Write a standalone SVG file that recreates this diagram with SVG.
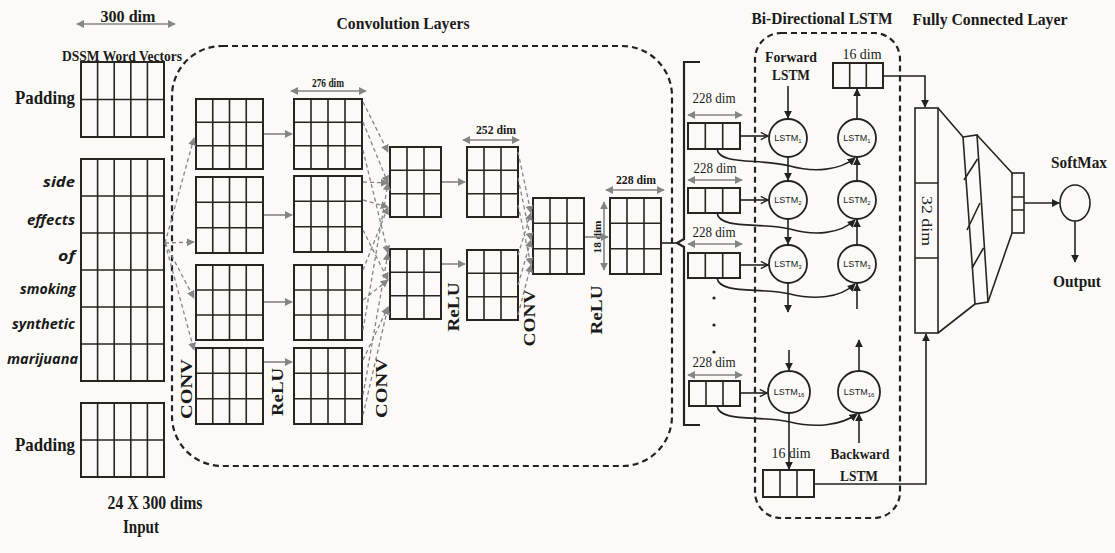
<svg xmlns="http://www.w3.org/2000/svg" width="1115" height="553" viewBox="0 0 1115 553">
<defs>
<style>
.bg{fill:#fbfaf7}
.m{fill:none;stroke:#2a2420;stroke-width:2}
.g{fill:none;stroke:#2a2420;stroke-width:1.6}
.dg{fill:none;stroke:#858585;stroke-width:1.3;stroke-dasharray:4 3;marker-end:url(#ag)}
.sg{fill:none;stroke:#858585;stroke-width:1.6;marker-end:url(#ag)}
.dim{fill:none;stroke:#858585;stroke-width:1.6;marker-start:url(#ag);marker-end:url(#ag)}
.bk{fill:none;stroke:#222;stroke-width:1.6}
.ab{marker-end:url(#ab)}
.ao{marker-end:url(#ao)}
.box{fill:none;stroke:#222;stroke-width:2.2;stroke-dasharray:6 4}
.tb{font-family:"Liberation Serif",serif;font-weight:bold;fill:#1a1a1a}
.tr{font-family:"Liberation Serif",serif;fill:#1a1a1a}
.tw{font-family:"Open Sans","Liberation Sans",sans-serif;font-weight:bold;font-style:italic;font-size:15px;fill:#1a1a1a;text-anchor:end}
.ts{font-family:"Liberation Sans",sans-serif;font-size:9px;fill:#1a1a1a;text-anchor:middle}
.sub{font-size:6px}
.c{fill:#fbfaf7;stroke:#222;stroke-width:1.8}
</style>
<marker id="ag" viewBox="0 0 10 10" refX="9" refY="5" markerWidth="8" markerHeight="8" markerUnits="userSpaceOnUse" orient="auto-start-reverse"><path d="M0,0 L10,5 L0,10 z" fill="#858585"/></marker>
<marker id="ab" viewBox="0 0 10 10" refX="9" refY="5" markerWidth="8" markerHeight="8" markerUnits="userSpaceOnUse" orient="auto"><path d="M0,0 L10,5 L0,10 z" fill="#222"/></marker>
<marker id="ao" viewBox="0 0 10 10" refX="9" refY="5" markerWidth="9" markerHeight="9" markerUnits="userSpaceOnUse" orient="auto"><path d="M1,1 L9,5 L1,9" fill="none" stroke="#222" stroke-width="1.6"/></marker>
</defs>
<rect class="bg" x="0" y="0" width="1115" height="553"/>

<!-- Input -->
<g id="input">
<text class="tb" x="128" y="22" font-size="16" text-anchor="middle" textLength="55" lengthAdjust="spacingAndGlyphs">300 dim</text>
<line class="dim" x1="77" y1="24" x2="175" y2="24"/>
<text class="tb" x="122" y="61" font-size="14" text-anchor="middle" textLength="120" lengthAdjust="spacingAndGlyphs">DSSM Word Vectors</text>
<text class="tb" x="45" y="104" font-size="19" text-anchor="middle" textLength="60" lengthAdjust="spacingAndGlyphs">Padding</text>
<rect class="m" x="81" y="62" width="83" height="75"/>
<path class="g" d="M97.6,62V137M114.2,62V137M130.8,62V137M147.4,62V137M81,99.5H164"/>
<rect class="m" x="81" y="159" width="83" height="222"/>
<path class="g" d="M97.6,159V381M114.2,159V381M130.8,159V381M147.4,159V381M81,196H164M81,233H164M81,270H164M81,307H164M81,344H164"/>
<text class="tw" x="75" y="187" textLength="32" lengthAdjust="spacingAndGlyphs">side</text>
<text class="tw" x="75" y="225" textLength="48" lengthAdjust="spacingAndGlyphs">effects</text>
<text class="tw" x="75" y="261" textLength="17" lengthAdjust="spacingAndGlyphs">of</text>
<text class="tw" x="76" y="294" textLength="56" lengthAdjust="spacingAndGlyphs">smoking</text>
<text class="tw" x="75" y="329" textLength="63" lengthAdjust="spacingAndGlyphs">synthetic</text>
<text class="tw" x="78" y="364" textLength="71" lengthAdjust="spacingAndGlyphs">marijuana</text>
<rect class="m" x="81" y="403" width="83" height="74"/>
<path class="g" d="M97.6,403V477M114.2,403V477M130.8,403V477M147.4,403V477M81,440H164"/>
<text class="tb" x="45" y="451" font-size="19" text-anchor="middle" textLength="60" lengthAdjust="spacingAndGlyphs">Padding</text>
<text class="tb" x="155" y="509" font-size="18" text-anchor="middle" textLength="95" lengthAdjust="spacingAndGlyphs">24 X 300 dims</text>
<text class="tb" x="141" y="533" font-size="18" text-anchor="middle" textLength="36" lengthAdjust="spacingAndGlyphs">Input</text>
</g>

<!-- Convolution layers -->
<g id="conv-layers">
<text class="tb" x="403" y="29" font-size="17" text-anchor="middle" textLength="133" lengthAdjust="spacingAndGlyphs">Convolution Layers</text>
<rect class="box" x="172" y="46" width="500" height="420" rx="50"/>
</g>

<g id="conv1">
<rect class="m" x="196" y="99" width="67" height="70"/>
<path class="g" d="M212.75,99V169M229.5,99V169M246.25,99V169M196,122.3H263M196,145.7H263"/>
<rect class="m" x="196" y="177" width="67" height="76"/>
<path class="g" d="M212.75,177V253M229.5,177V253M246.25,177V253M196,202.3H263M196,227.7H263"/>
<rect class="m" x="196" y="265" width="67" height="75"/>
<path class="g" d="M212.75,265V340M229.5,265V340M246.25,265V340M196,290H263M196,315H263"/>
<rect class="m" x="196" y="348" width="67" height="76"/>
<path class="g" d="M212.75,348V424M229.5,348V424M246.25,348V424M196,373.3H263M196,398.7H263"/>
<text class="tb" transform="translate(192,389) rotate(-90)" font-size="17" text-anchor="middle" textLength="60" lengthAdjust="spacingAndGlyphs">CONV</text>
</g>

<g id="relu1">
<text class="tb" x="328" y="87" font-size="12" text-anchor="middle" textLength="32" lengthAdjust="spacingAndGlyphs">276 dim</text>
<line class="dim" x1="291" y1="91" x2="366" y2="91"/>
<rect class="m" x="294" y="99" width="68" height="70"/>
<path class="g" d="M311,99V169M328,99V169M345,99V169M294,122.3H362M294,145.7H362"/>
<rect class="m" x="294" y="176" width="68" height="76"/>
<path class="g" d="M311,176V252M328,176V252M345,176V252M294,201.3H362M294,226.7H362"/>
<rect class="m" x="294" y="265" width="68" height="75"/>
<path class="g" d="M311,265V340M328,265V340M345,265V340M294,290H362M294,315H362"/>
<rect class="m" x="294" y="348" width="68" height="76"/>
<path class="g" d="M311,348V424M328,348V424M345,348V424M294,373.3H362M294,398.7H362"/>
<text class="tb" transform="translate(283,392) rotate(-90)" font-size="16" text-anchor="middle" textLength="48" lengthAdjust="spacingAndGlyphs">ReLU</text>
</g>

<g id="conv2">
<rect class="m" x="390" y="147" width="51" height="70"/>
<path class="g" d="M407,147V217M424,147V217M390,170.3H441M390,193.7H441"/>
<rect class="m" x="390" y="249" width="51" height="70"/>
<path class="g" d="M407,249V319M424,249V319M390,272.3H441M390,295.7H441"/>
<text class="tb" transform="translate(387,388) rotate(-90)" font-size="17" text-anchor="middle" textLength="60" lengthAdjust="spacingAndGlyphs">CONV</text>
</g>

<g id="relu2">
<text class="tb" x="496" y="134" font-size="12" text-anchor="middle" textLength="40" lengthAdjust="spacingAndGlyphs">252 dim</text>
<line class="dim" x1="463" y1="140" x2="519" y2="140"/>
<rect class="m" x="467" y="147" width="51" height="70"/>
<path class="g" d="M484,147V217M501,147V217M467,170.3H518M467,193.7H518"/>
<rect class="m" x="467" y="250" width="51" height="70"/>
<path class="g" d="M484,250V320M501,250V320M467,273.3H518M467,296.7H518"/>
<text class="tb" transform="translate(459,307) rotate(-90)" font-size="16" text-anchor="middle" textLength="49" lengthAdjust="spacingAndGlyphs">ReLU</text>
</g>

<g id="conv3">
<rect class="m" x="533" y="198" width="51" height="76"/>
<path class="g" d="M550,198V274M567,198V274M533,223.3H584M533,248.7H584"/>
<text class="tb" transform="translate(535,318) rotate(-90)" font-size="17" text-anchor="middle" textLength="57" lengthAdjust="spacingAndGlyphs">CONV</text>
</g>

<g id="relu3">
<text class="tb" x="636" y="184" font-size="12" text-anchor="middle" textLength="40" lengthAdjust="spacingAndGlyphs">228 dim</text>
<line class="dim" x1="606" y1="190" x2="664" y2="190"/>
<rect class="m" x="610" y="198" width="51" height="76"/>
<path class="g" d="M627,198V274M644,198V274M610,223.3H661M610,248.7H661"/>
<line class="dim" x1="604" y1="202" x2="604" y2="270"/>
<text class="tb" transform="translate(601,237) rotate(-90)" font-size="11" text-anchor="middle" textLength="33" lengthAdjust="spacingAndGlyphs">18 dim</text>
<text class="tb" transform="translate(602,310) rotate(-90)" font-size="16" text-anchor="middle" textLength="49" lengthAdjust="spacingAndGlyphs">ReLU</text>
</g>

<!-- LSTM section -->
<g id="bracket">
<path d="M700,62 H684 V239 L677,243 L684,247 V425 H700" fill="none" stroke="#222" stroke-width="2.2"/>
</g>

<g id="lstm-inputs">
<text class="tr" x="714" y="103" font-size="14" text-anchor="middle" textLength="43" lengthAdjust="spacingAndGlyphs">228 dim</text>
<line class="dim" x1="688" y1="115" x2="742" y2="115"/>
<rect class="m" x="688" y="123" width="52" height="26"/>
<path class="g" d="M705.3,123V149M722.7,123V149"/>
<text class="tr" x="715" y="173" font-size="14" text-anchor="middle" textLength="43" lengthAdjust="spacingAndGlyphs">228 dim</text>
<line class="dim" x1="688" y1="180" x2="742" y2="180"/>
<rect class="m" x="688" y="188" width="52" height="25"/>
<path class="g" d="M705.3,188V213M722.7,188V213"/>
<text class="tr" x="714" y="237" font-size="14" text-anchor="middle" textLength="43" lengthAdjust="spacingAndGlyphs">228 dim</text>
<line class="dim" x1="688" y1="244" x2="742" y2="244"/>
<rect class="m" x="688" y="253" width="52" height="25"/>
<path class="g" d="M705.3,253V278M722.7,253V278"/>
<circle cx="714" cy="298" r="1.6" fill="#222"/>
<circle cx="714" cy="325" r="1.6" fill="#222"/>
<circle cx="714" cy="352" r="1.6" fill="#222"/>
<text class="tr" x="714" y="367" font-size="14" text-anchor="middle" textLength="43" lengthAdjust="spacingAndGlyphs">228 dim</text>
<line class="dim" x1="688" y1="375" x2="742" y2="375"/>
<rect class="m" x="689" y="381" width="51" height="25"/>
<path class="g" d="M706,381V406M723,381V406"/>
</g>

<g id="bilstm">
<text class="tb" x="822" y="24" font-size="17" text-anchor="middle" textLength="141" lengthAdjust="spacingAndGlyphs">Bi-Directional LSTM</text>
<rect class="box" x="755" y="33" width="145" height="485" rx="26"/>
<text class="tb" x="791" y="62" font-size="15" text-anchor="middle" textLength="52" lengthAdjust="spacingAndGlyphs">Forward</text>
<text class="tb" x="791" y="80" font-size="15" text-anchor="middle" textLength="38" lengthAdjust="spacingAndGlyphs">LSTM</text>
<text class="tr" x="862" y="59" font-size="14" text-anchor="middle" textLength="39" lengthAdjust="spacingAndGlyphs">16 dim</text>
<rect class="m" x="833" y="63" width="50" height="25"/>
<path class="g" d="M849.7,63V88M866.3,63V88"/>
<text class="tr" x="791" y="458" font-size="14" text-anchor="middle" textLength="39" lengthAdjust="spacingAndGlyphs">16 dim</text>
<rect class="m" x="763" y="470" width="51" height="27"/>
<path class="g" d="M780,470V497M797,470V497"/>
<text class="tb" x="860" y="459" font-size="15" text-anchor="middle" textLength="59" lengthAdjust="spacingAndGlyphs">Backward</text>
<text class="tb" x="859" y="481" font-size="15" text-anchor="middle" textLength="38" lengthAdjust="spacingAndGlyphs">LSTM</text>
</g>

<g id="lstm-f1"><circle class="c" cx="788" cy="138" r="19"/><text class="ts" x="788" y="141">LSTM<tspan class="sub" dy="2">1</tspan></text></g>
<g id="lstm-f2"><circle class="c" cx="788" cy="200" r="19"/><text class="ts" x="788" y="203">LSTM<tspan class="sub" dy="2">2</tspan></text></g>
<g id="lstm-f3"><circle class="c" cx="788" cy="264" r="19"/><text class="ts" x="788" y="267">LSTM<tspan class="sub" dy="2">3</tspan></text></g>
<g id="lstm-f16"><circle class="c" cx="789" cy="392" r="21"/><text class="ts" x="789" y="395">LSTM<tspan class="sub" dy="2">16</tspan></text></g>
<g id="lstm-b1"><circle class="c" cx="857" cy="138" r="19"/><text class="ts" x="857" y="141">LSTM<tspan class="sub" dy="2">1</tspan></text></g>
<g id="lstm-b2"><circle class="c" cx="857" cy="200" r="19"/><text class="ts" x="857" y="203">LSTM<tspan class="sub" dy="2">2</tspan></text></g>
<g id="lstm-b3"><circle class="c" cx="857" cy="264" r="19"/><text class="ts" x="857" y="267">LSTM<tspan class="sub" dy="2">3</tspan></text></g>
<g id="lstm-b16"><circle class="c" cx="859" cy="392" r="21"/><text class="ts" x="859" y="395">LSTM<tspan class="sub" dy="2">16</tspan></text></g>

<!-- Fully connected -->
<g id="fc">
<text class="tb" x="990" y="25" font-size="17" text-anchor="middle" textLength="155" lengthAdjust="spacingAndGlyphs">Fully Connected Layer</text>
<rect class="g" x="915" y="108" width="23" height="225"/>
<path class="g" d="M915,183H938M915,258H938"/>
<text class="tr" transform="translate(922,221) rotate(90)" font-size="15" text-anchor="middle" textLength="50" lengthAdjust="spacingAndGlyphs">32 dim</text>
<path class="g" d="M963,137 L977,135 L988,302 L975,304 Z"/>
<path class="g" d="M964,180 L977.5,159 M967,230 L980,203 M972,268 L983.5,248"/>
<path class="g" d="M938,108 L963,137 M938,333 L975,304 M977,135 L1012,173 M988,302 L1012,233"/>
<rect class="g" x="1012" y="173" width="12" height="60"/>
<path class="g" d="M1012,197H1024M1012,210H1024"/>
</g>

<g id="softmax">
<text class="tb" x="1079" y="168" font-size="16" text-anchor="middle" textLength="56" lengthAdjust="spacingAndGlyphs">SoftMax</text>
<ellipse cx="1075" cy="203" rx="15" ry="18" fill="none" stroke="#222" stroke-width="1.6"/>
<text class="tb" x="1077" y="287" font-size="16" text-anchor="middle" textLength="48" lengthAdjust="spacingAndGlyphs">Output</text>
</g>

<!-- Connectors -->
<g id="connectors">
<path class="dg" d="M165,243 L194,138"/>
<path class="dg" d="M165,243 L194,242"/>
<path class="dg" d="M165,243 L194,298"/>
<path class="dg" d="M165,243 L194,350"/>
<path class="sg" d="M264,134 H292"/>
<path class="sg" d="M264,215 H292"/>
<path class="sg" d="M264,302 H292"/>
<path class="sg" d="M264,362 H292"/>
<path class="dg" d="M363,102 L388,152"/>
<path class="dg" d="M363,122 L388,183"/>
<path class="dg" d="M363,150 L388,253"/>
<path class="dg" d="M363,182 L388,183"/>
<path class="dg" d="M363,200 L388,207"/>
<path class="dg" d="M363,230 L388,280"/>
<path class="dg" d="M363,270 L388,207"/>
<path class="dg" d="M363,300 L388,280"/>
<path class="dg" d="M363,330 L388,183"/>
<path class="dg" d="M363,360 L388,307"/>
<path class="dg" d="M363,395 L388,253"/>
<path class="dg" d="M363,415 L388,307"/>
<path class="sg" d="M442,182 H465"/>
<path class="sg" d="M442,264 H465"/>
<path class="dg" d="M518,152 L531,213"/>
<path class="dg" d="M518,178 L531,240"/>
<path class="dg" d="M518,205 L531,265"/>
<path class="dg" d="M518,255 L531,213"/>
<path class="dg" d="M518,285 L531,240"/>
<path class="dg" d="M518,315 L531,265"/>
<path class="sg" d="M585,237 H608"/>
<path class="bk" d="M662,243 H677"/>
<path class="bk ao" d="M740,136 H768"/>
<path class="bk ao" d="M740,200 H768"/>
<path class="bk ao" d="M740,265 H768"/>
<path class="bk ao" d="M740,393 H767"/>
<path class="bk ab" d="M717,149 C720,166 760,158 790,166 C815,173 840,170 855,158"/>
<path class="bk ab" d="M717,213 C720,230 760,222 790,229 C815,236 840,234 855,220"/>
<path class="bk ab" d="M717,278 C720,295 760,287 790,294 C815,300 840,298 855,284"/>
<path class="bk ab" d="M717,406 C720,423 760,415 790,422 C815,428 840,426 857,414"/>
<path class="bk ab" d="M788,86 V118"/>
<path class="bk ab" d="M788,157 V180"/>
<path class="bk ab" d="M788,219 V244"/>
<path class="bk ab" d="M788,283 V312"/>
<path class="bk ab" d="M789,350 V370"/>
<path class="bk ab" d="M789,413 V469"/>
<path class="bk ab" d="M859,443 V414"/>
<path class="bk ab" d="M859,371 V340"/>
<path class="bk ab" d="M857,309 V284"/>
<path class="bk ab" d="M857,245 V220"/>
<path class="bk ab" d="M857,181 V158"/>
<path class="bk ab" d="M857,119 V89"/>
<path class="bk ab" d="M883,76 H925 V107"/>
<path class="bk ab" d="M814,484 H926 V334"/>
<path class="bk ab" d="M1024,203 H1059"/>
<path class="bk ab" d="M1075,221 V262"/>
</g>
</svg>
